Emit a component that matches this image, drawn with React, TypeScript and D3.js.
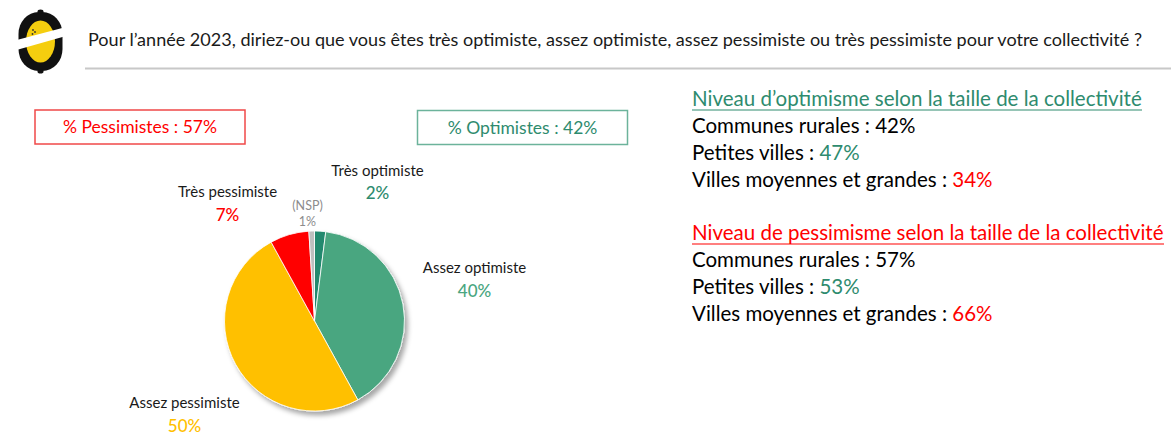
import React from "react";
import * as d3 from "d3";

// ---- Data ----
const questionText =
  "Pour l’année 2023, diriez-ou que vous êtes très optimiste, assez optimiste, assez pessimiste ou très pessimiste pour votre collectivité ?";
const sliceLabels = ["Très optimiste", "Assez optimiste", "Assez pessimiste", "Très pessimiste", "(NSP)"];
const sliceValues = [2, 40, 50, 7, 1];
const pessimistTotal = 57;
const optimistTotal = 42;
const sizeCategories = ["Communes rurales", "Petites villes", "Villes moyennes et grandes"];
const optimismBySize = [42, 47, 34];
const pessimismBySize = [57, 53, 66];
const optimismTitle = "Niveau d’optimisme selon la taille de la collectivité";
const pessimismTitle = "Niveau de pessimisme selon la taille de la collectivité";

// ---- Styles ----
const FONT = "Lato, 'Open Sans', sans-serif";
const sliceColors = ["#23896E", "#4AA680", "#FFC000", "#FF0000", "#BFBFBF"];
const labelValueColors = ["#2E8B6E", "#4AA680", "#FFC000", "#FF0000", "#8C8C8C"];
const GREEN = "#2E8B6E";
const RED = "#FF0000";
const sizeValueColors = ["#000000", GREEN, RED];
// label placement relative to pie centre: [dx, labelDy, valueDy]
const labelPlacement: [number, number, number][] = [
  [63, -145, -122],
  [160, -48, -24],
  [-130, 87, 111],
  [-87, -124, -100],
  [-7, -111, -95],
];

const W = 1171;
const H = 445;
const cx = 314.5;
const cy = 321;
const R = 90;

export default function App() {
  const pie = d3.pie<number>().sort(null).value((d) => d);
  const arcs = pie(sliceValues);
  const arcGen = d3.arc<d3.PieArcDatum<number>>().innerRadius(0).outerRadius(R);

  const rightX = 692;
  const lineStep = 27;

  return (
    <svg
      width={W}
      height={H}
      viewBox={`0 0 ${W} ${H}`}
      style={{ position: "absolute", left: 0, top: 0, background: "#fff" }}
      fontFamily={FONT}
    >
      <defs>
        <filter id="shadow" x="-20%" y="-20%" width="150%" height="150%">
          <feDropShadow dx="3" dy="4" stdDeviation="2.5" floodColor="#000" floodOpacity="0.35" />
        </filter>
      </defs>
      <rect x={0} y={0} width={W} height={H} fill="#fff" />

      {/* Logo */}
      <g>
        <rect x={18.5} y={12} width={44} height={59} rx={20} ry={22} fill="#111" />
        <ellipse cx={40.5} cy={11.5} rx={3} ry={2} fill="#111" />
        <ellipse cx={40.5} cy={71.5} rx={3} ry={2} fill="#111" />
        <ellipse cx={40.5} cy={41.5} rx={14.5} ry={21} fill="#F5CE0F" />
        <circle cx={33} cy={30} r={0.9} fill="#333" />
        <circle cx={35} cy={32} r={0.9} fill="#333" />
        <circle cx={32.5} cy={34} r={0.9} fill="#333" />
        <polygon points="13,41 66,27 66,36 13,51" fill="#fff" />
      </g>

      {/* Question */}
      <text x={88} y={46} fontSize={17} fill="#1a1a1a" textLength={1054} lengthAdjust="spacingAndGlyphs">
        {questionText}
      </text>
      <line x1={85} x2={W} y1={68.5} y2={68.5} stroke="#C8C8C8" strokeWidth={2} />

      {/* Summary boxes */}
      <rect x={35} y={110} width={210} height={34} fill="#fff" stroke="#F04848" strokeWidth={1.5} />
      <text x={140} y={133} fontSize={17.5} fill={RED} textAnchor="middle">
        {`% Pessimistes : ${pessimistTotal}%`}
      </text>
      <rect x={417.5} y={110.5} width={210} height={34} fill="#fff" stroke="#6CB39B" strokeWidth={1.5} />
      <text x={522.5} y={133.5} fontSize={17.5} fill={GREEN} textAnchor="middle">
        {`% Optimistes : ${optimistTotal}%`}
      </text>

      {/* Pie */}
      <g transform={`translate(${cx},${cy})`}>
        <g filter="url(#shadow)">
          {arcs.map((a, i) => (
            <path key={i} d={arcGen(a) || ""} fill={sliceColors[i]} stroke="#fff" strokeWidth={0.8} />
          ))}
        </g>
        {arcs.map((a, i) => {
          const [dx, ly, vy] = labelPlacement[i];
          const isNsp = i === 4;
          return (
            <g key={`l${i}`}>
              <text
                x={dx}
                y={ly}
                textAnchor="middle"
                fontSize={isNsp ? 12.5 : 15}
                fill={isNsp ? "#8C8C8C" : "#1a1a1a"}
              >
                {sliceLabels[i]}
              </text>
              <text
                x={dx}
                y={vy}
                textAnchor="middle"
                fontSize={isNsp ? 12.5 : 17}
                fontWeight={isNsp ? 400 : 500}
                fill={labelValueColors[i]}
              >
                {`${a.data}%`}
              </text>
            </g>
          );
        })}
      </g>

      {/* Right text block */}
      <g fontSize={20.5}>
        <text x={rightX} y={106} fill={GREEN}>
          {optimismTitle}
        </text>
        <line x1={rightX} x2={1142} y1={110} y2={110} stroke={GREEN} strokeWidth={1.2} />
        {sizeCategories.map((c, i) => (
          <text key={`o${i}`} x={rightX} y={133 + i * lineStep} fill="#000">
            {`${c} : `}
            <tspan fill={sizeValueColors[i]}>{`${optimismBySize[i]}%`}</tspan>
          </text>
        ))}
        <text x={rightX} y={240} fill={RED}>
          {pessimismTitle}
        </text>
        <line x1={rightX} x2={1164} y1={244} y2={244} stroke={RED} strokeWidth={1.2} />
        {sizeCategories.map((c, i) => (
          <text key={`p${i}`} x={rightX} y={267 + i * lineStep} fill="#000">
            {`${c} : `}
            <tspan fill={sizeValueColors[i]}>{`${pessimismBySize[i]}%`}</tspan>
          </text>
        ))}
      </g>
    </svg>
  );
}
